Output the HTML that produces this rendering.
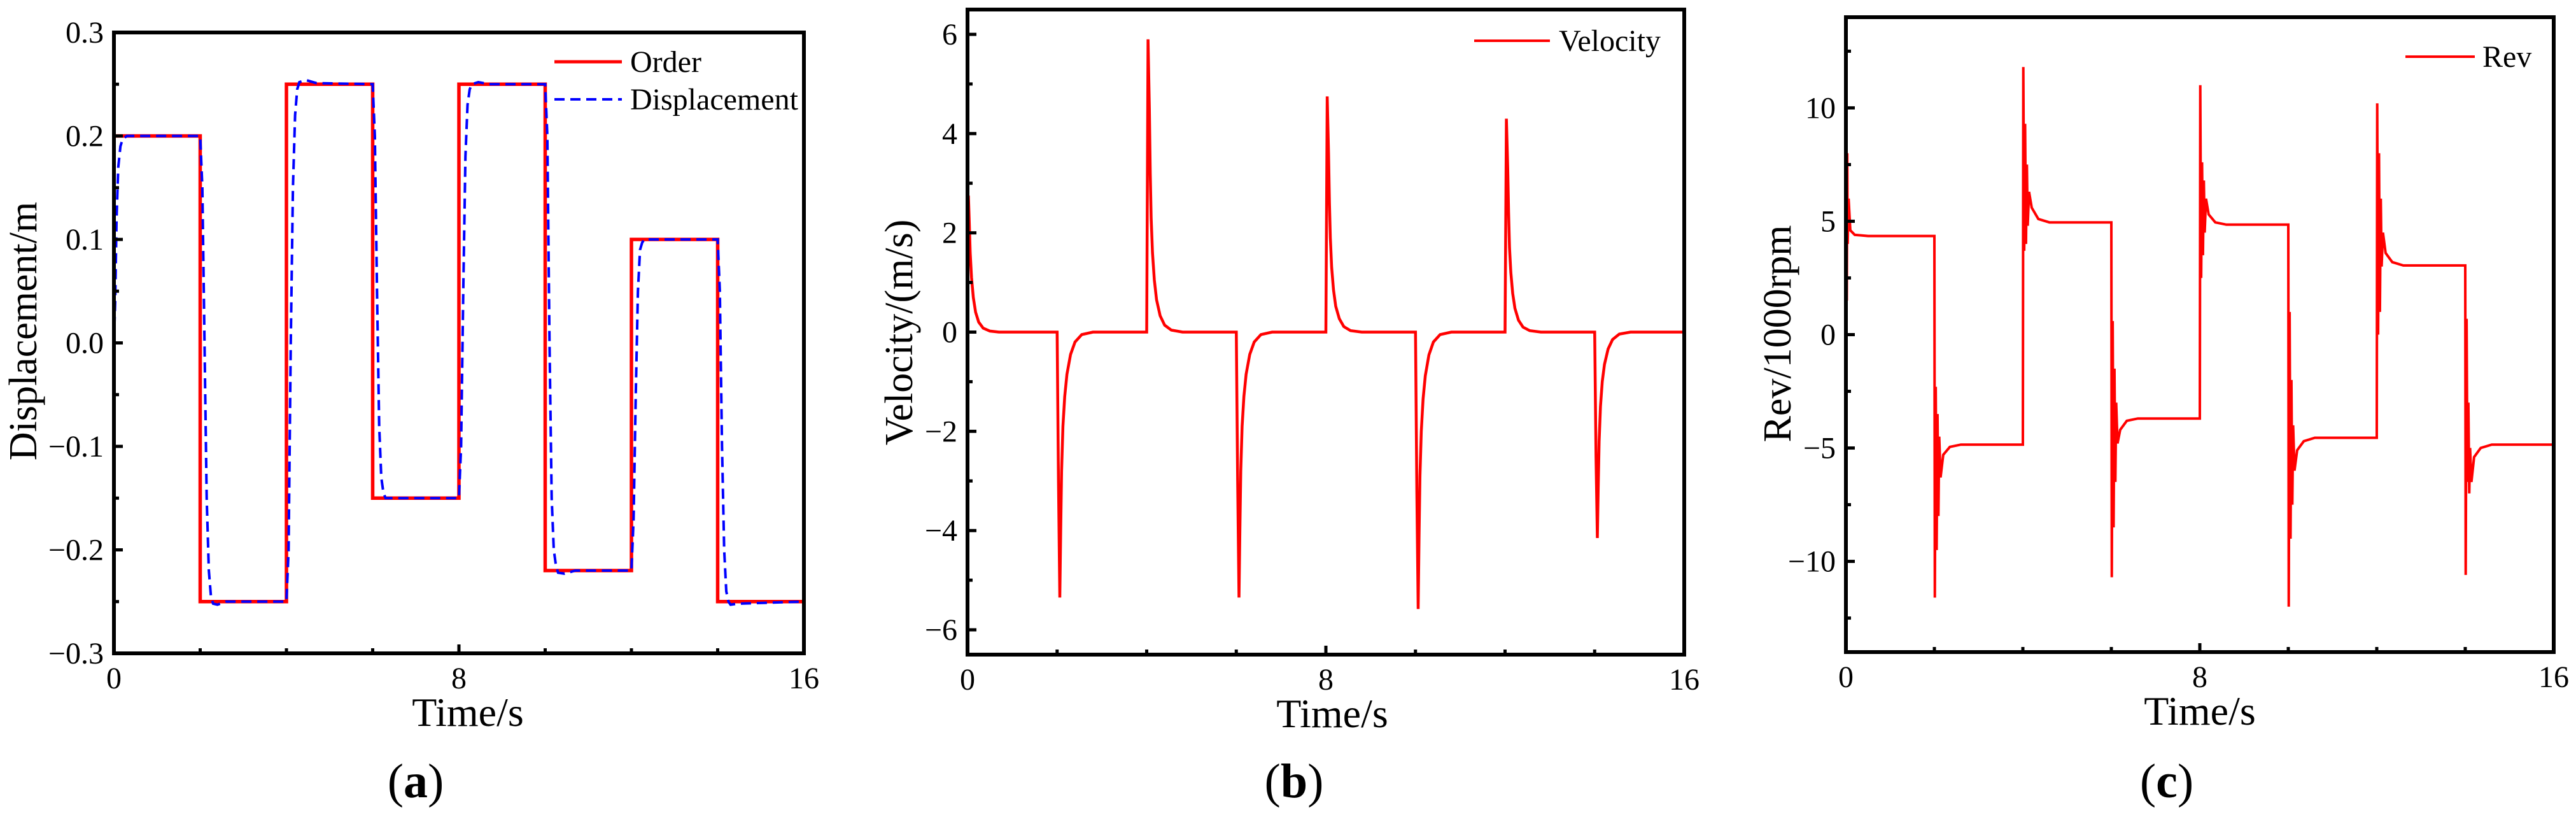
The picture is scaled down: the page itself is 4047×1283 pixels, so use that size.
<!DOCTYPE html>
<html><head><meta charset="utf-8">
<style>
html,body{margin:0;padding:0;background:#fff;}
svg{display:block;font-family:"Liberation Serif","DejaVu Serif",serif;}
</style></head>
<body>
<svg id="fig" width="4047" height="1283" viewBox="0 0 4047 1283" xmlns="http://www.w3.org/2000/svg"></svg>
<script>
// ---------- Panel (a) data ----------
var orderT = [0,2,4,6,8,10,12,14,16];
var orderV = [0.2,-0.25,0.25,-0.15,0.25,-0.22,0.1,-0.25];
var dispT = [0,0.03,0.06,0.1,0.15,0.2,0.3,0.5,
 2.0,2.05,2.1,2.15,2.2,2.25,2.3,2.4,2.6,
 4.0,4.05,4.1,4.15,4.2,4.25,4.3,4.45,4.7,
 6.0,6.05,6.1,6.15,6.2,6.25,6.3,6.45,
 8.0,8.05,8.1,8.15,8.2,8.25,8.3,8.45,8.7,
 10.0,10.05,10.1,10.15,10.2,10.25,10.3,10.45,10.7,
 12.0,12.05,12.1,12.15,12.2,12.25,12.3,12.45,
 14.0,14.05,14.1,14.15,14.2,14.25,14.3,14.45,16];
var dispV = [0,0.04,0.12,0.17,0.19,0.197,0.2,0.2,
 0.2,0.15,0.0,-0.15,-0.22,-0.245,-0.252,-0.253,-0.25,
 -0.25,-0.2,0.0,0.15,0.22,0.245,0.252,0.254,0.251,
 0.25,0.2,0.05,-0.08,-0.13,-0.145,-0.15,-0.15,
 -0.15,-0.1,0.05,0.18,0.23,0.245,0.25,0.252,0.25,
 0.25,0.2,0.0,-0.15,-0.2,-0.215,-0.222,-0.223,-0.22,
 -0.22,-0.17,-0.05,0.05,0.09,0.097,0.1,0.1,
 0.1,0.05,-0.1,-0.2,-0.24,-0.25,-0.253,-0.252,-0.25];
var aYTicks = [-0.3,-0.2,-0.1,0.0,0.1,0.2,0.3];
var aYLabels = ["\u22120.3","\u22120.2","\u22120.1","0.0","0.1","0.2","0.3"];
// ---------- Panel (b) data ----------
var velT = [0,0.02,0.04,0.06,0.09,0.13,0.18,0.25,0.35,0.5,0.7,
 2.0,2.03,2.06,2.08,2.1,2.13,2.17,2.22,2.3,2.4,2.55,2.8,
 4.0,4.03,4.06,4.08,4.1,4.13,4.17,4.22,4.3,4.4,4.55,4.8,
 6.0,6.03,6.06,6.08,6.1,6.13,6.17,6.22,6.3,6.4,6.55,6.8,
 8.0,8.03,8.06,8.08,8.1,8.13,8.17,8.22,8.3,8.4,8.55,8.8,
 10.0,10.03,10.06,10.08,10.1,10.13,10.17,10.22,10.3,10.4,10.55,10.8,
 12.0,12.03,12.06,12.08,12.1,12.13,12.17,12.22,12.3,12.4,12.55,12.8,
 14.0,14.03,14.06,14.08,14.1,14.13,14.17,14.22,14.3,14.4,14.55,14.8,16];
var velV = [0,2.75,2.2,1.6,1.1,0.7,0.4,0.2,0.08,0.02,0,
 0,-3,-5.35,-4.0,-2.8,-1.9,-1.3,-0.85,-0.45,-0.2,-0.05,0,
 0,5.9,4.5,3.2,2.3,1.6,1.05,0.65,0.33,0.14,0.04,0,
 0,-3,-5.35,-4.0,-2.8,-1.9,-1.3,-0.85,-0.45,-0.2,-0.05,0,
 0,4.75,3.6,2.6,1.9,1.3,0.85,0.52,0.27,0.11,0.03,0,
 0,-3.2,-5.58,-4.1,-2.9,-2.0,-1.35,-0.88,-0.46,-0.2,-0.05,0,
 0,4.3,3.3,2.4,1.7,1.2,0.78,0.48,0.24,0.1,0.03,0,
 0,-2.5,-4.15,-3.1,-2.2,-1.5,-1.0,-0.65,-0.34,-0.15,-0.04,0,0];
var bYTicks = [-6,-4,-2,0,2,4,6];
var bYLabels = ["\u22126","\u22124","\u22122","0","2","4","6"];
// ---------- Panel (c) data ----------
var revT = [0,0.01,0.02,0.03,0.04,0.06,0.1,0.2,0.5,2.0,
 2.01,2.03,2.05,2.07,2.09,2.11,2.14,2.2,2.35,2.6,4.0,
 4.01,4.03,4.05,4.07,4.09,4.11,4.14,4.2,4.35,4.6,6.0,
 6.01,6.03,6.05,6.07,6.09,6.11,6.14,6.2,6.35,6.6,8.0,
 8.01,8.03,8.05,8.07,8.09,8.11,8.14,8.2,8.35,8.6,10.0,
 10.01,10.03,10.05,10.07,10.09,10.11,10.14,10.2,10.35,10.6,12.0,
 12.01,12.03,12.05,12.07,12.09,12.11,12.14,12.2,12.35,12.6,14.0,
 14.01,14.03,14.05,14.07,14.09,14.11,14.14,14.2,14.35,14.6,16];
var revV = [0,10,1.5,8,4,6,4.6,4.4,4.35,4.35,
 -11.6,-2.3,-9.5,-3.5,-8,-4.5,-6.3,-5.3,-4.95,-4.85,-4.85,
 11.8,3.7,9.3,4.0,7.5,4.8,6.3,5.6,5.1,4.95,4.95,
 -10.7,0.6,-8.5,-1.5,-6.5,-3,-4.8,-4.2,-3.8,-3.7,-3.7,
 11,2.5,7.6,3.5,6.8,4.5,6.0,5.3,4.95,4.85,4.85,
 -12,1.0,-9,-2,-7.5,-4,-6,-5.1,-4.7,-4.55,-4.55,
 10.2,0,8,1,6,3,4.5,3.6,3.2,3.05,3.05,
 -10.6,0.7,-6.5,-3,-7,-5,-6.5,-5.4,-5.0,-4.85,-4.85];
var cYTicks = [-10,-5,0,5,10];
var cYLabels = ["\u221210","\u22125","0","5","10"];
var xTicks = [0,8,16];
var xLabels = ["0","8","16"];
var xMinor = [2,4,6,10,12,14];

var NS = "http://www.w3.org/2000/svg";
var svg = document.getElementById('fig');
function mk(tag, attrs, parent){
  var e = document.createElementNS(NS, tag);
  for (var k in attrs) e.setAttribute(k, attrs[k]);
  (parent||svg).appendChild(e); return e;
}
function panel(cfg){
  var g = mk('g', {});
  
  
  var L=cfg.L,R=cfg.R,T=cfg.T,B=cfg.B;
  var sx=function(t){return L+(t-0)/16*(R-L);};
  var sy=function(v){return B-(v-cfg.ymin)/(cfg.ymax-cfg.ymin)*(B-T);};
  var clipId = cfg.name+'-clip';
  var cp = mk('clipPath',{id:clipId},g);
  mk('rect',{x:L,y:T,width:R-L,height:B-T},cp);
  var plot = mk('g',{'clip-path':'url(#'+clipId+')'},g);
  cfg.series.forEach(function(s){
    var d='';
    if (s.step){
      for (var i=0;i<s.v.length;i++){
        d += (i===0?'M':'L')+sx(s.t[i]).toFixed(1)+','+sy(s.v[i]).toFixed(1)+'L'+sx(s.t[i+1]).toFixed(1)+','+sy(s.v[i]).toFixed(1);
      }
    } else {
      for (var j=0;j<s.t.length;j++) d += (j===0?'M':'L')+sx(s.t[j]).toFixed(1)+','+sy(s.v[j]).toFixed(1);
    }
    var p = mk('path',{d:d,fill:'none',stroke:s.color,'stroke-width':s.w,'stroke-dasharray':s.dash||'none','stroke-linejoin':'miter'},plot);
    
    
  });
  var fr = mk('rect',{x:L,y:T,width:R-L,height:B-T,fill:'none',stroke:'#000','stroke-width':6},g);
  
  
  xTicks.forEach(function(t,i){
    mk('line',{x1:sx(t),x2:sx(t),y1:B,y2:B-14,stroke:'#000','stroke-width':5},g);
    var tx = mk('text',{x:sx(t),y:B+55,'font-size':48,'text-anchor':'middle'},g);
    tx.textContent = xLabels[i];
    
    
  });
  xMinor.forEach(function(t){
    mk('line',{x1:sx(t),x2:sx(t),y1:B,y2:B-8,stroke:'#000','stroke-width':5},g);
  });
  cfg.yTicks.forEach(function(v,i){
    mk('line',{x1:L,x2:L+14,y1:sy(v),y2:sy(v),stroke:'#000','stroke-width':5},g);
    var ty = mk('text',{x:L-16,y:sy(v)+16,'font-size':48,'text-anchor':'end'},g);
    ty.textContent = cfg.yLabels[i];
    
    
  });
  cfg.yMinor.forEach(function(v){
    mk('line',{x1:L,x2:L+8,y1:sy(v),y2:sy(v),stroke:'#000','stroke-width':5},g);
  });
  var xt = mk('text',{x:cfg.xTitleX,y:B+114,'font-size':64,'text-anchor':'middle'},g);
  xt.textContent = 'Time/s';
  
  
  var yt = mk('text',{x:0,y:0,'font-size':62,'text-anchor':'middle',transform:'translate('+cfg.yTitleX+','+cfg.yTitleY+') rotate(-90)'},g);
  yt.textContent = cfg.yTitle;
  
  
  var cap = mk('text',{x:cfg.capX,y:1252,'font-size':76,'text-anchor':'middle'},g);
  cap.innerHTML = '(<tspan font-weight="bold">'+cfg.cap+'</tspan>)';
  
  
  cfg.legend.forEach(function(l){
    var lg = mk('g',{},g);
    
    
    mk('line',{x1:l.x1,x2:l.x2,y1:l.y,y2:l.y,stroke:l.color,'stroke-width':l.w,'stroke-dasharray':l.dash||'none'},lg);
    var lt = mk('text',{x:l.tx,y:l.y+16,'font-size':48},lg);
    lt.textContent = l.text;
  });
}
panel({name:'panel-a-displacement',L:179,R:1263,T:51,B:1026,ymin:-0.3,ymax:0.3,
  yTicks:aYTicks,yLabels:aYLabels,yMinor:[-0.25,-0.15,-0.05,0.05,0.15,0.25],
  series:[{id:'order-line',step:true,t:orderT,v:orderV,color:'#ff0000',w:5.5},
          {id:'displacement-line',t:dispT,v:dispV,color:'#0000ff',w:4,dash:'16 9'}],
  xTitleX:735,yTitleX:57,yTitleY:520,yTitle:'Displacement/m',capX:653,cap:'a',
  legend:[{x1:871,x2:977,y:97,color:'#ff0000',w:5,text:'Order',tx:990},
          {x1:871,x2:977,y:156,color:'#0000ff',w:4,dash:'16 9',text:'Displacement',tx:990}]});
panel({name:'panel-b-velocity',L:1520,R:2646,T:15,B:1028,ymin:-6.5,ymax:6.5,
  yTicks:bYTicks,yLabels:bYLabels,yMinor:[-5,-3,-1,1,3,5],
  series:[{id:'velocity-line',t:velT,v:velV,color:'#ff0000',w:4.5}],
  xTitleX:2093,yTitleX:1433,yTitleY:522,yTitle:'Velocity/(m/s)',capX:2033,cap:'b',
  legend:[{x1:2316,x2:2435,y:64,color:'#ff0000',w:4,text:'Velocity',tx:2449}]});
panel({name:'panel-c-rev',L:2900,R:4012,T:27,B:1024,ymin:-14,ymax:14,
  yTicks:cYTicks,yLabels:cYLabels,yMinor:[-12.5,-7.5,-2.5,2.5,7.5,12.5],
  series:[{id:'rev-line',t:revT,v:revV,color:'#ff0000',w:4}],
  xTitleX:3456,yTitleX:2813,yTitleY:524,yTitle:'Rev/1000rpm',capX:3404,cap:'c',
  legend:[{x1:3779,x2:3888,y:89,color:'#ff0000',w:4,text:'Rev',tx:3900}]});
</script>
</body></html>
